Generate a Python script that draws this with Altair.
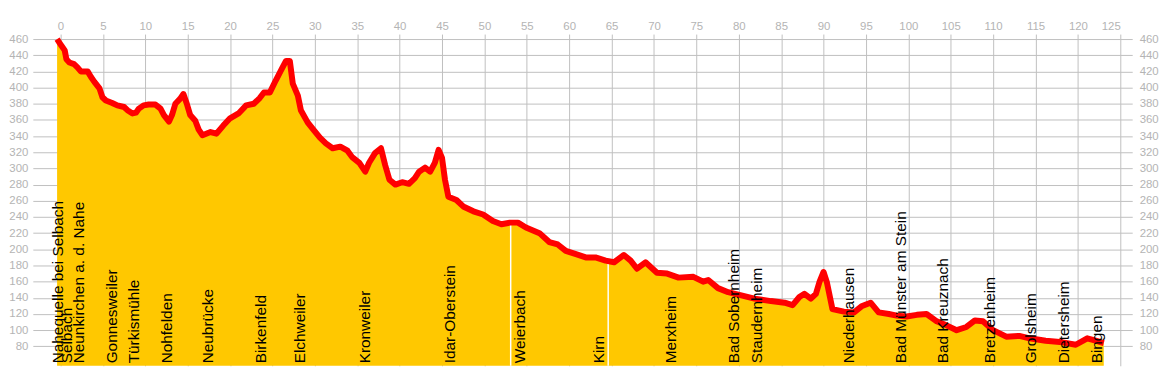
import altair as alt
import pandas as pd

# distance along the Nahe (km) and elevation (m)
km = [-0.4, 0.1, 0.5, 0.7, 1.05, 1.6, 2.0, 2.4, 3.2, 3.6, 4.0, 4.6, 4.95, 5.35, 6.1, 6.7, 7.5, 7.9, 8.5, 8.9,
      9.25, 9.8, 10.4, 11.2, 11.8, 12.2, 12.8, 13.15, 13.55, 14.1, 14.5, 14.9, 15.3, 15.9, 16.3, 16.75, 17.7,
      18.4, 19.2, 20.0, 21.0, 21.9, 22.8, 23.5, 24.0, 24.7, 25.4, 26.1, 26.6, 27.05, 27.4, 28.0, 28.35, 29.15,
      29.9, 30.6, 31.3, 32.1, 33.0, 33.85, 34.4, 35.25, 35.95, 36.4, 37.1, 37.8, 38.3, 38.8, 39.5, 40.3, 41.1,
      41.8, 42.3, 43.0, 43.6, 44.15, 44.6, 45.0, 45.35, 45.75, 46.7, 47.5, 48.7, 49.85, 51.0, 52.0, 53.0, 53.95,
      54.9, 56.5, 57.65, 58.65, 59.6, 60.8, 61.95, 63.1, 64.3, 65.3, 66.45, 67.25, 68.0, 69.0, 70.35, 71.55,
      72.9, 74.65, 75.8, 76.4, 77.55, 78.75, 80.3, 81.85, 83.8, 85.4, 86.35, 87.15, 87.75, 88.5, 89.1, 89.5,
      90.0, 90.4, 91.05, 92.4, 93.6, 94.55, 95.55, 96.5, 97.7, 98.65, 99.8, 101.0, 102.15, 103.35, 104.5,
      105.7, 106.85, 107.85, 108.8, 110.0, 111.55, 113.1, 114.3, 116.2, 118.2, 119.75, 121.1, 122.1, 123.05]
elev = [460, 452, 446, 435, 431, 429, 425, 420, 420, 413, 407, 399, 388, 384, 381, 378, 376, 372, 368, 369,
        374, 378, 379, 379, 374, 366, 358, 366, 380, 386, 392, 380, 366, 359, 348, 341, 345,
        343, 353, 362, 368, 378, 380, 387, 394, 394, 409, 423, 433, 433, 405, 390, 372, 357,
        347, 338, 331, 325, 327, 322, 314, 307, 296, 307, 319, 325, 304, 286, 280, 283, 281,
        288, 296, 301, 296, 307, 323, 313, 286, 265, 261, 253, 247, 243, 235, 231, 233, 233,
        227, 220, 209, 206, 198, 194, 190, 190, 186, 184, 193, 186, 176, 184, 171, 170,
        165, 166, 160, 162, 152, 147, 143, 139, 136, 134, 131, 141, 145, 139, 145, 159,
        172, 159, 126, 123, 122, 130, 134, 122, 120, 118, 117, 119, 120, 111, 106,
        100, 104, 112, 111, 100, 92, 93, 90, 87, 85, 82, 90, 87, 84]

# places along the river
place_names = ["Nahequelle bei Selbach", "Selbach", "Neunkirchen a. d. Nahe", "Gonnesweiler", "Türkismühle",
               "Nohfelden", "Neubrücke", "Birkenfeld", "Elchweiler", "Kronweiler", "Idar-Oberstein",
               "Weierbach", "Kirn", "Merxheim", "Bad Sobernheim", "Staudernheim", "Niederhausen",
               "Bad Münster am Stein", "Bad Kreuznach", "Bretzenheim", "Grolsheim", "Dietersheim", "Bingen"]
place_km = [-0.34, 0.83, 2.2, 6.1, 8.64, 12.6, 17.4, 23.7, 28.2, 35.9, 45.9, 54.2, 63.5, 72.0, 79.5, 82.2,
            93.0, 99.1, 104.1, 109.6, 114.5, 118.4, 122.3]

# section dividers
divider_km = [53.1, 64.6]
divider_elev = [232, 186]

x_ticks = list(range(0, 126, 5))
y_ticks = list(range(80, 461, 20))
Y_MIN, Y_MAX = 56, 460
X_MIN, X_MAX = -0.45, 125
LABEL_ELEV = 59

prof = pd.DataFrame({"km": km, "elev": elev})
places = pd.DataFrame({"name": place_names, "km": place_km, "ly": [LABEL_ELEV] * len(place_names)})
divs = pd.DataFrame({"km": divider_km, "elev": divider_elev})

FONT = "Liberation Sans"
GRID = "#c0c0c0"
LAB = "#b4b4b4"

xscale = alt.Scale(domain=[X_MIN, X_MAX], nice=False, zero=False)
yscale = alt.Scale(domain=[Y_MIN, Y_MAX], nice=False, zero=False)

x_axis = alt.Axis(orient="top", values=x_ticks, title=None, grid=True, gridColor=GRID, domain=False,
                  tickColor=GRID, tickSize=5, labelPadding=3, labelColor=LAB, labelFont=FONT,
                  labelFontSize=11.5)
y_left = alt.Axis(orient="left", values=y_ticks, title=None, grid=True, gridColor=GRID, domain=False,
                  tickColor=GRID, tickSize=24, labelPadding=5, labelColor=LAB, labelFont=FONT,
                  labelFontSize=11.5)
y_right = alt.Axis(orient="right", values=y_ticks, title=None, grid=False, domain=False,
                   tickColor=GRID, tickSize=12, labelPadding=7, labelColor=LAB, labelFont=FONT,
                   labelFontSize=11.5)

X = alt.X("km:Q", scale=xscale, axis=x_axis)

area = alt.Chart(prof).mark_area(color="#ffc800", opacity=1).encode(
    x=X,
    y=alt.Y("elev:Q", scale=yscale, axis=y_left),
    y2=alt.datum(Y_MIN),
)

rules = alt.Chart(divs).mark_rule(color="white", strokeWidth=1.5).encode(
    x=X,
    y=alt.Y("elev:Q", scale=yscale, axis=y_left),
    y2=alt.datum(Y_MIN),
)

line = alt.Chart(prof).mark_line(color="#ff0000", strokeWidth=6, strokeJoin="round", strokeCap="butt").encode(
    x=X,
    y=alt.Y("elev:Q", scale=yscale, axis=y_right),
)

labels = alt.Chart(places).mark_text(angle=270, align="left", baseline="middle", fontSize=15.5,
                                     font=FONT, color="black").encode(
    x=X,
    y=alt.Y("ly:Q", scale=yscale, axis=y_right),
    text="name:N",
)

base = alt.layer(area, rules)
top = alt.layer(line, labels)

chart = alt.layer(base, top).resolve_axis(y="independent").properties(
    width=1071, height=329,
    autosize=alt.AutoSizeParams(type="none"),
    padding={"left": 49, "top": 30, "right": 42, "bottom": 5},
    background="white",
).configure_view(stroke=None)

chart.save("out.html", embed_options={"renderer": "svg", "actions": False})
